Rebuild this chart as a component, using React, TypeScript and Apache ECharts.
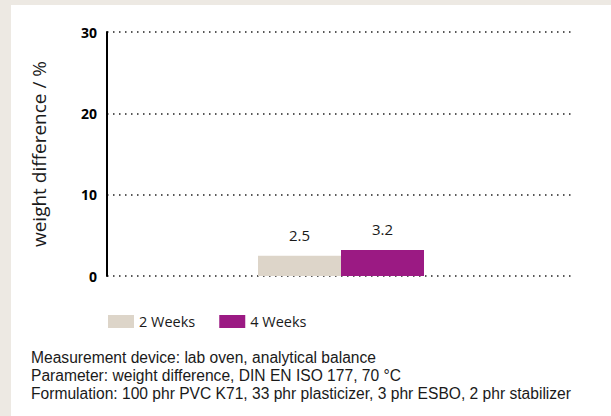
import React, { useEffect, useRef } from "react";
import * as echarts from "echarts";

const categories = ["Sample"];
const seriesNames = ["2 Weeks", "4 Weeks"];
const weeks2 = [2.5];
const weeks4 = [3.2];
const yTicks = [0, 10, 20, 30];
const footerLines = [
  "Measurement device: lab oven, analytical balance",
  "Parameter: weight difference, DIN EN ISO 177, 70 °C",
  "Formulation: 100 phr PVC K71, 33 phr plasticizer, 3 phr ESBO, 2 phr stabilizer",
];

const FONT = "'Open Sans', 'Noto Sans', sans-serif";
const FOOT_FONT = "'Liberation Sans', Lato, sans-serif";

export default function App() {
  const ref = useRef<HTMLDivElement>(null);
  useEffect(() => {
    document.body.style.margin = "0";
    const chart = echarts.init(ref.current!, null, { renderer: "svg" });
    chart.setOption({
      animation: false,
      backgroundColor: "#ede9e3",
      textStyle: { fontFamily: FONT },
      graphic: [
        {
          type: "rect",
          shape: { x: 11, y: 5, width: 600, height: 411 },
          style: { fill: "#ffffff" },
          z: -10,
          silent: true,
        },
        ...footerLines.map((t, i) => ({
          type: "text",
          left: 31,
          top: 348 + i * 18,
          style: {
            text: t,
            fill: "#1a1a1a",
            fontSize: 15.6,
            lineHeight: 18,
            fontFamily: FOOT_FONT,
          },
        })),
      ],
      legend: {
        data: seriesNames,
        left: 108,
        top: 314,
        padding: 0,
        itemWidth: 26,
        itemHeight: 13,
        itemGap: 24,
        icon: "rect",
        textStyle: { fontSize: 14.5, color: "#1a1a1a", fontFamily: FONT },
      },
      grid: { left: 107, right: 36, top: 32, bottom: 140 },
      xAxis: {
        type: "category",
        data: categories,
        axisLine: { show: false },
        axisTick: { show: false },
        axisLabel: { show: false },
      },
      yAxis: {
        type: "value",
        min: yTicks[0],
        max: yTicks[yTicks.length - 1],
        interval: 10,
        name: "weight difference / %",
        nameLocation: "middle",
        nameGap: 59,
        nameTextStyle: { fontSize: 19, color: "#1a1a1a", fontFamily: FONT },
        axisLine: { show: true, lineStyle: { color: "#000", width: 2 } },
        axisTick: { show: false },
        axisLabel: {
          fontSize: 14,
          fontWeight: "bold",
          color: "#000",
          margin: 10,
          fontFamily: FONT,
        },
        splitLine: {
          show: true,
          lineStyle: { color: "#222", width: 1.5, type: [1.5, 4.5] },
        },
      },
      series: [
        {
          name: seriesNames[0],
          type: "bar",
          data: weeks2,
          barWidth: 83,
          barGap: "0%",
          itemStyle: { color: "#ddd5c9" },
          label: {
            show: true,
            position: "top",
            distance: 13,
            fontSize: 15,
            color: "#1a1a1a",
            fontFamily: FONT,
          },
        },
        {
          name: seriesNames[1],
          type: "bar",
          data: weeks4,
          barWidth: 83,
          barGap: "0%",
          itemStyle: { color: "#9b1a83" },
          label: {
            show: true,
            position: "top",
            distance: 13,
            fontSize: 15,
            color: "#1a1a1a",
            fontFamily: FONT,
          },
        },
      ],
    });
    return () => chart.dispose();
  }, []);
  return (
    <div
      ref={ref}
      style={{ position: "absolute", left: 0, top: 0, width: 611, height: 416 }}
    />
  );
}
